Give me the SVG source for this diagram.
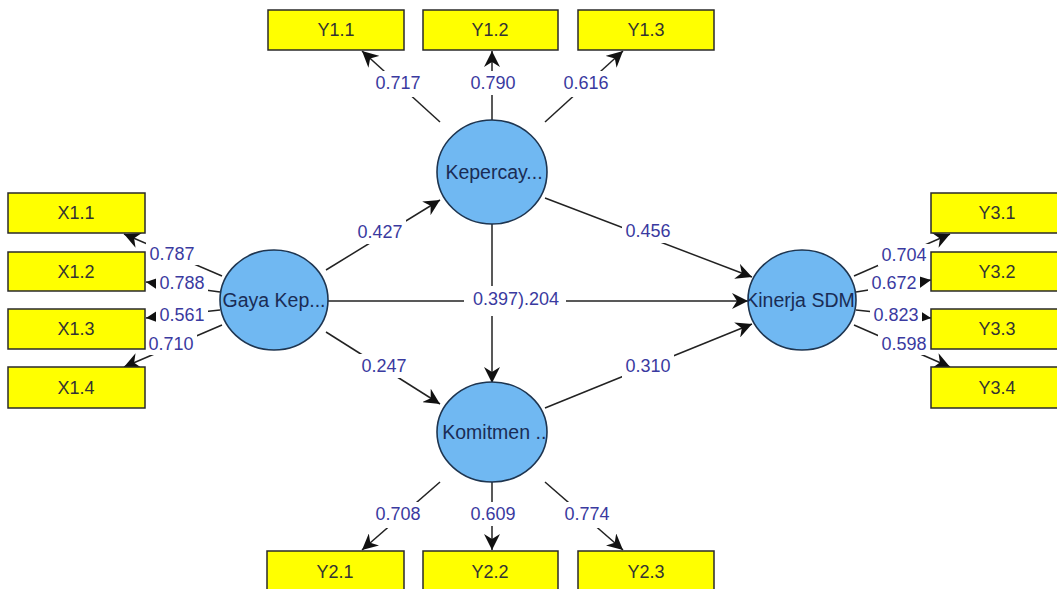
<svg xmlns="http://www.w3.org/2000/svg" width="1057" height="589" viewBox="0 0 1057 589">
<style>
.bg{fill:#fff}
.box rect{fill:#ffff00;stroke:#2a2a2a;stroke-width:1.5}
.box text{font-family:"Liberation Sans",Arial,sans-serif;font-size:18px;fill:#333;text-anchor:middle}
.lv ellipse{fill:#70b8f2;stroke:#1e3550;stroke-width:1.6}
.lv text{font-family:"Liberation Sans",Arial,sans-serif;font-size:19.5px;fill:#1a2c55;text-anchor:middle}
.c line{stroke:#222;stroke-width:1.5;marker-end:url(#ah)}
.lb rect{fill:#fff}
.lb text{font-family:"Liberation Sans",Arial,sans-serif;font-size:18px;fill:#3a3aa0;text-anchor:middle}
</style>
<defs>
<marker id="ah" markerUnits="userSpaceOnUse" markerWidth="17" markerHeight="16" refX="16" refY="8" orient="auto">
<path d="M0,0 L16,8 L0,16 L5,8 Z" fill="#111"/>
</marker>
<clipPath id="cg"><ellipse cx="274" cy="300" rx="54" ry="50"/></clipPath>
<clipPath id="ck"><ellipse cx="492" cy="172" rx="55" ry="52"/></clipPath>
<clipPath id="cm"><ellipse cx="492" cy="432" rx="55" ry="50"/></clipPath>
<clipPath id="cs"><ellipse cx="802" cy="300" rx="54" ry="50"/></clipPath>
</defs>
<rect class="bg" width="1057" height="589"/>

<g id="connectors" class="c">
<line x1="326" y1="270" x2="440" y2="200"/>
<line x1="545" y1="198" x2="752" y2="277"/>
<line x1="328" y1="301" x2="748" y2="301"/>
<line x1="492" y1="224" x2="492" y2="383"/>
<line x1="326" y1="332" x2="440" y2="404"/>
<line x1="545" y1="408" x2="752" y2="324"/>
<line x1="440" y1="122" x2="362" y2="51"/>
<line x1="492" y1="120" x2="492" y2="51"/>
<line x1="545" y1="122" x2="623" y2="51"/>
<line x1="440" y1="482" x2="362" y2="550"/>
<line x1="492" y1="482" x2="492" y2="550"/>
<line x1="545" y1="482" x2="623" y2="550"/>
<line x1="222" y1="276" x2="124" y2="234"/>
<line x1="220" y1="292" x2="146" y2="282"/>
<line x1="220" y1="310" x2="146" y2="318"/>
<line x1="222" y1="325" x2="124" y2="367"/>
<line x1="854" y1="276" x2="950" y2="234"/>
<line x1="856" y1="292" x2="931" y2="280"/>
<line x1="856" y1="310" x2="931" y2="318"/>
<line x1="854" y1="325" x2="950" y2="367"/>
<g id="labels" class="lb">
<rect x="354" y="220" width="52" height="24"/><text x="380" y="238">0.427</text>
<rect x="622" y="219" width="52" height="24"/><text x="648" y="237">0.456</text>
<rect x="464" y="288" width="102" height="24"/><rect x="484" y="286" width="16" height="30"/><text x="516" y="305">0.397).204</text>
<rect x="358" y="354" width="52" height="24"/><text x="384" y="372">0.247</text>
<rect x="622" y="354" width="52" height="24"/><text x="648" y="372">0.310</text>
<rect x="372" y="71" width="52" height="26"/><text x="398" y="89">0.717</text>
<rect x="467" y="71" width="52" height="24"/><text x="493" y="89">0.790</text>
<rect x="560" y="71" width="52" height="26"/><text x="586" y="89">0.616</text>
<rect x="372" y="502" width="52" height="26"/><text x="398" y="520">0.708</text>
<rect x="467" y="502" width="52" height="24"/><text x="493" y="520">0.609</text>
<rect x="561" y="502" width="52" height="26"/><text x="587" y="520">0.774</text>
<rect x="146" y="241" width="52" height="24"/><text x="172" y="260">0.787</text>
<rect x="156" y="272" width="52" height="21"/><text x="182" y="289">0.788</text>
<rect x="156" y="304" width="52" height="21"/><text x="182" y="321">0.561</text>
<rect x="145" y="333" width="52" height="22"/><text x="171" y="350">0.710</text>
<rect x="878" y="244" width="52" height="22"/><text x="904" y="261">0.704</text>
<rect x="868" y="272" width="52" height="21"/><text x="894" y="289">0.672</text>
<rect x="870" y="304" width="52" height="21"/><text x="896" y="321">0.823</text>
<rect x="878" y="333" width="52" height="22"/><text x="904" y="350">0.598</text>
</g>
</g>

<g id="gaya" class="lv"><ellipse cx="274" cy="300" rx="54" ry="50"/><text x="274" y="307" clip-path="url(#cg)">Gaya Kep...</text></g>
<g id="kepercayaan" class="lv"><ellipse cx="492" cy="172" rx="55" ry="52"/><text x="494" y="179" clip-path="url(#ck)">Kepercay...</text></g>
<g id="komitmen" class="lv"><ellipse cx="492" cy="432" rx="55" ry="50"/><text x="497" y="439" clip-path="url(#cm)">Komitmen ...</text></g>
<g id="kinerja" class="lv"><ellipse cx="802" cy="300" rx="54" ry="50"/><text x="800" y="307" clip-path="url(#cs)">Kinerja SDM</text></g>

<g id="x11" class="box"><rect x="8" y="193" width="137" height="40"/><text x="76" y="219">X1.1</text></g>
<g id="x12" class="box"><rect x="8" y="252" width="137" height="39"/><text x="76" y="278">X1.2</text></g>
<g id="x13" class="box"><rect x="8" y="309" width="137" height="40"/><text x="76" y="335">X1.3</text></g>
<g id="x14" class="box"><rect x="8" y="367" width="137" height="41"/><text x="76" y="394">X1.4</text></g>

<g id="y11" class="box"><rect x="268" y="10" width="136" height="40"/><text x="336" y="36">Y1.1</text></g>
<g id="y12" class="box"><rect x="423" y="10" width="135" height="40"/><text x="490" y="36">Y1.2</text></g>
<g id="y13" class="box"><rect x="578" y="10" width="136" height="40"/><text x="646" y="36">Y1.3</text></g>

<g id="y21" class="box"><rect x="267" y="551" width="137" height="42"/><text x="335" y="578">Y2.1</text></g>
<g id="y22" class="box"><rect x="423" y="551" width="135" height="42"/><text x="490" y="578">Y2.2</text></g>
<g id="y23" class="box"><rect x="578" y="551" width="136" height="42"/><text x="646" y="578">Y2.3</text></g>

<g id="y31" class="box"><rect x="931" y="193" width="137" height="40"/><text x="997" y="219">Y3.1</text></g>
<g id="y32" class="box"><rect x="931" y="252" width="137" height="39"/><text x="997" y="278">Y3.2</text></g>
<g id="y33" class="box"><rect x="931" y="309" width="137" height="40"/><text x="997" y="335">Y3.3</text></g>
<g id="y34" class="box"><rect x="931" y="367" width="137" height="41"/><text x="997" y="394">Y3.4</text></g>
</svg>
